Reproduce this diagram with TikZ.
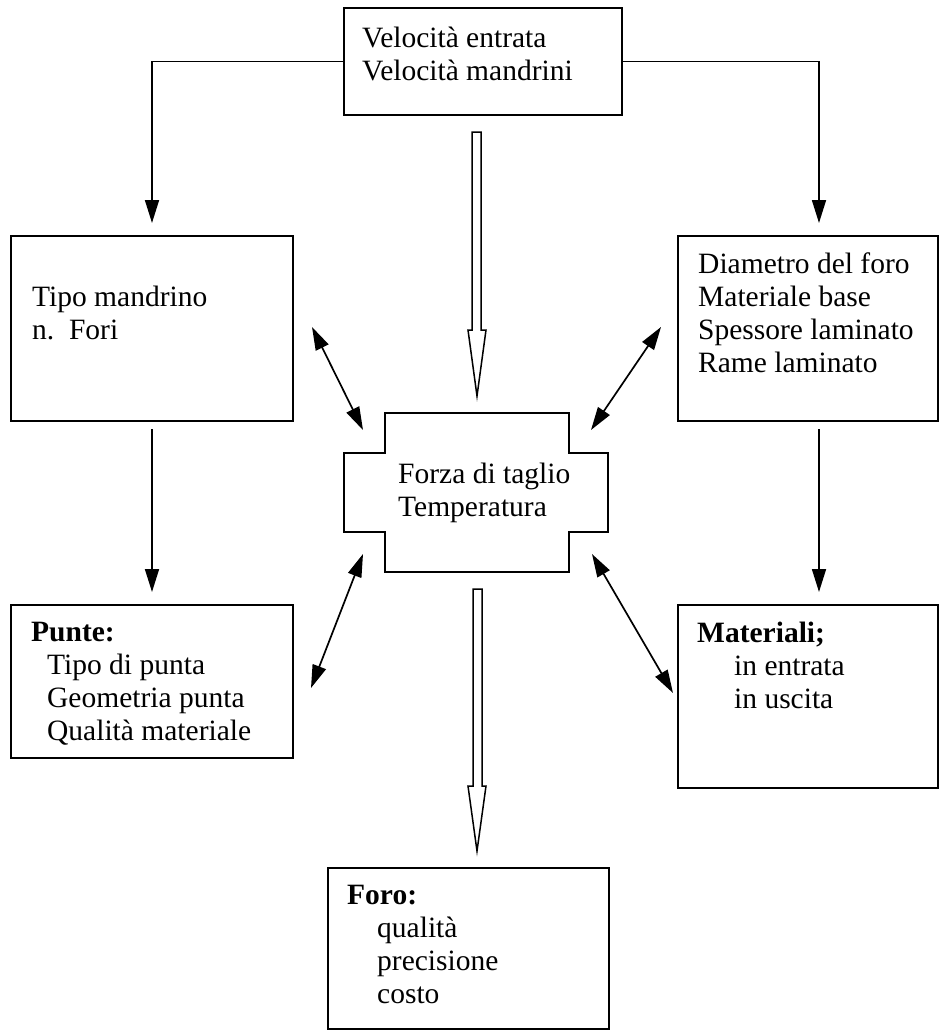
\documentclass[tikz,border=0pt]{standalone}
\usepackage{fontspec}
\setmainfont{Liberation Serif}
\usetikzlibrary{arrows.meta}
\begin{document}
\begin{tikzpicture}[x=1pt,y=-1pt,
  box/.style={draw, line width=1.8pt, inner sep=0pt, outer sep=0pt, anchor=north west},
  txt/.style={anchor=north west, inner sep=0pt, align=left, font=\fontsize{29.5}{33}\selectfont},
  arr/.style={line width=1.7pt, -{Triangle[length=23pt,width=14pt]}},
  darr/.style={line width=1.7pt, {Triangle[length=23pt,width=14pt]}-{Triangle[length=23pt,width=14pt]}},
  hollow/.style={draw, fill=white, line width=1.5pt, line join=miter}
]
\useasboundingbox[fill=white] (0,0) rectangle (948,1031);

% boxes
\node[box, minimum width=278pt, minimum height=107pt] (top) at (344,8) {};
\node[box, minimum width=282pt, minimum height=185pt] (tl) at (11,236) {};
\node[box, minimum width=260pt, minimum height=185pt] (tr) at (678,236) {};
\node[box, minimum width=282pt, minimum height=153pt] (bl) at (11,605) {};
\node[box, minimum width=260pt, minimum height=183pt] (br) at (678,605) {};
\node[box, minimum width=281pt, minimum height=161pt] (bot) at (328,868) {};
\node[inner sep=0pt, outer sep=0pt, minimum width=264pt, minimum height=159pt, anchor=north west] (ctr) at (344,413) {};

% cross shape
\draw[line width=1.8pt] (385,413) -- (569,413) -- (569,453) -- (608,453) -- (608,532) -- (569,532) -- (569,572) -- (385,572) -- (385,532) -- (344,532) -- (344,453) -- (385,453) -- cycle;

% texts
\node[txt] (ttop) at (362,24) {\strut Velocità entrata\\Velocità mandrini};
\node[txt] (ttl) at (32,283) {\strut Tipo mandrino\\n.~~Fori};
\node[txt] (ttr) at (698,250) {\strut Diametro del foro\\Materiale base\\Spessore laminato\\Rame laminato};
\node[txt] (tctr) at (398,460) {\strut Forza di taglio\\Temperatura};
\node[txt] (tbl) at (31,618) {\strut\textbf{Punte:}\\\hspace*{16pt}Tipo di punta\\\hspace*{16pt}Geometria punta\\\hspace*{16pt}Qualità materiale};
\node[txt] (tbr) at (697,619) {\strut\textbf{Materiali;}\\\hspace*{37pt}in entrata\\\hspace*{37pt}in uscita};
\node[txt] (tbot) at (347,881) {\strut\textbf{Foro:}\\\hspace*{30pt}qualità\\\hspace*{30pt}precisione\\\hspace*{30pt}costo};

% connector end points
\coordinate (tlin) at (152,223);
\coordinate (trin) at (819,223);
\coordinate (tlout) at (152,429);
\coordinate (blin) at (152,592);
\coordinate (trout) at (819,429);
\coordinate (brin) at (819,592);
\coordinate (ul1) at (312,327);
\coordinate (ul2) at (363,430);
\coordinate (ur1) at (661,327);
\coordinate (ur2) at (591,430);
\coordinate (ll1) at (363,554);
\coordinate (ll2) at (311,688);
\coordinate (lr1) at (592,554);
\coordinate (lr2) at (673,693);

\draw[arr] (top.west) -| (tlin);
\draw[arr] (top.east) -| (trin);
\draw[arr] (tlout) -- (blin);
\draw[arr] (trout) -- (brin);
\draw[darr] (ul1) -- (ul2);
\draw[darr] (ur1) -- (ur2);
\draw[darr] (ll1) -- (ll2);
\draw[darr] (lr1) -- (lr2);

% hollow arrows
\draw[hollow] (472,132) -- (481,132) -- (481,330) -- (486,330) -- (477,396) -- (468,330) -- (472,330) -- cycle;
\draw[hollow] (473,589) -- (482,589) -- (482,786) -- (486,786) -- (477,851) -- (468,786) -- (473,786) -- cycle;
\end{tikzpicture}
\end{document}
